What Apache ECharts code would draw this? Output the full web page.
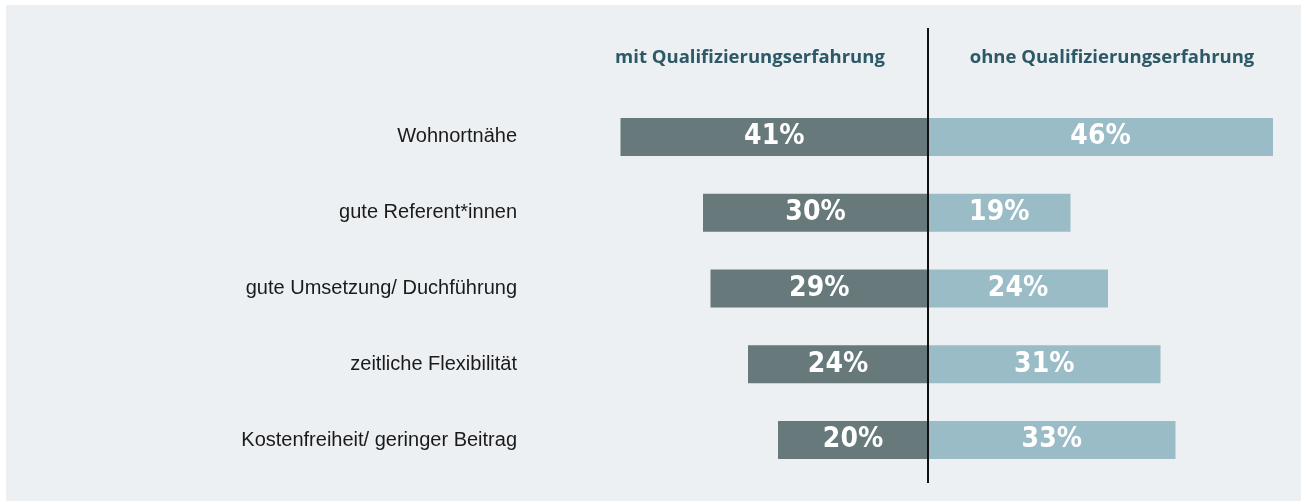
<!DOCTYPE html>
<html>
<head>
<meta charset="utf-8">
<script src="https://cdn.jsdelivr.net/npm/echarts@6/dist/echarts.min.js"></script>
<style>
  html, body { margin: 0; padding: 0; background: #ffffff; }
  #chart { position: absolute; left: 6px; top: 5px; width: 1295px; height: 496px; background: #ecf0f3; }
</style>
</head>
<body>
<div id="chart"></div>
<script>
// Kategorien und Werte (in %)
const categories = ['Wohnortnähe', 'gute Referent*innen', 'gute Umsetzung/ Duchführung', 'zeitliche Flexibilität', 'Kostenfreiheit/ geringer Beitrag'];
const mitValues = [41, 30, 29, 24, 20];
const ohneValues = [46, 19, 24, 31, 33];
const groupNames = ['mit Qualifizierungserfahrung', 'ohne Qualifizierungserfahrung'];

const chart = echarts.init(document.getElementById('chart'));

const labelStyle = {
    show: true,
    position: 'inside',
    color: '#ffffff',
    fontFamily: '"DejaVu Sans Condensed", "Liberation Sans", sans-serif',
    fontWeight: 'bold',
    fontSize: 28,
    formatter: p => Math.abs(p.value) + '%'
};

chart.setOption({
    animation: false,
    grid: {
        left: 562,
        right: 13,
        top: 94,
        height: 379
    },
    xAxis: {
        type: 'value',
        min: -48,
        max: 48,
        show: false
    },
    yAxis: {
        type: 'category',
        inverse: true,
        data: categories,
        axisLine: { show: false },
        axisTick: { show: false },
        splitLine: { show: false },
        axisLabel: {
            margin: 51,
            color: '#1a1a1a',
            fontFamily: '"Liberation Sans", Arial, sans-serif',
            fontSize: 20
        }
    },
    series: [
        {
            name: groupNames[0],
            type: 'bar',
            stack: 'total',
            barWidth: 38,
            data: mitValues.map(v => -v),
            itemStyle: { color: '#67797b' },
            label: labelStyle
        },
        {
            name: groupNames[1],
            type: 'bar',
            stack: 'total',
            barWidth: 38,
            data: ohneValues,
            itemStyle: { color: '#99bcc6' },
            label: labelStyle
        }
    ]
});

// Mittellinie und Überschriften
const zeroX = chart.convertToPixel({ xAxisIndex: 0 }, 0);
const leftX = chart.convertToPixel({ xAxisIndex: 0 }, -48);
const rightX = chart.convertToPixel({ xAxisIndex: 0 }, 48);
const headerStyle = {
    fill: '#2d5866',
    fontFamily: '"Open Sans", sans-serif',
    fontWeight: 'bold',
    fontSize: 18.5,
    align: 'center',
    verticalAlign: 'middle'
};
chart.setOption({
    graphic: [
        {
            type: 'line',
            shape: { x1: zeroX, y1: 23, x2: zeroX, y2: 478 },
            style: { stroke: '#111111', lineWidth: 2 },
            z: 10
        },
        {
            type: 'text',
            x: (leftX + zeroX) / 2 + 2,
            y: 53,
            style: Object.assign({ text: groupNames[0] }, headerStyle)
        },
        {
            type: 'text',
            x: (zeroX + rightX) / 2 + 4,
            y: 53,
            style: Object.assign({ text: groupNames[1] }, headerStyle)
        }
    ]
});

window.addEventListener('resize', () => {
    chart.resize();
});
</script>
</body>
</html>
